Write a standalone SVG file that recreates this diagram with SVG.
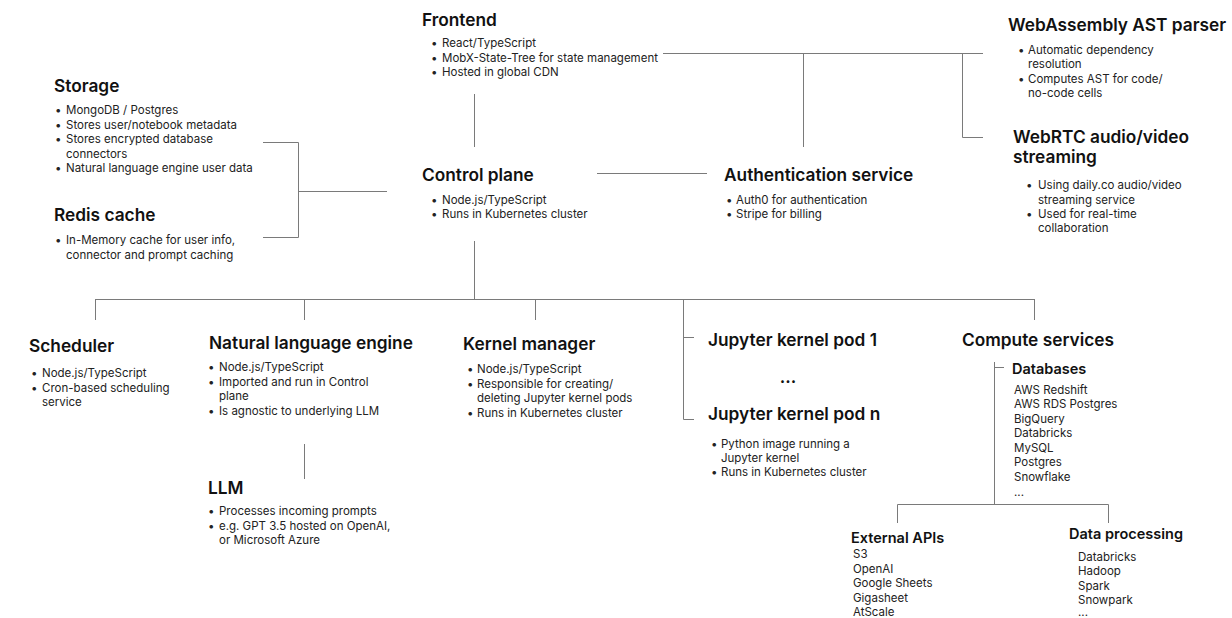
<svg xmlns="http://www.w3.org/2000/svg" width="1232" height="618" viewBox="0 0 1232 618">
<style>
text{font-family:Inter,"Noto Sans","Liberation Sans",sans-serif;fill:#111}
.t{font-size:17.3px;font-weight:600}
.s{font-size:14.5px;font-weight:600}
.b{font-size:11.5px;fill:#222}
.d{font-size:11.5px;fill:#222}
.c{fill:none;stroke:#7a7a7a;stroke-width:1}
</style>
<rect width="1232" height="618" fill="#fff"/>
<g id="connectors" class="c">
<path d="M663,53.5H983M962.5,53.5V137.5H983M803.5,53.5V147"/>
<path d="M474.5,94V147"/>
<path d="M597,173.5H707"/>
<path d="M263,142.5H298.5V237.5H263M298.5,191.5H387"/>
<path d="M474.5,241V299.5"/>
<path d="M95,299.5H1034.5"/>
<path d="M95.5,299V320M304.5,299V320M535.5,299V320M1034.5,299V320"/>
<path d="M683.5,299V419.5H694M683.5,337.5H694"/>
<path d="M304.5,444V479"/>
<path d="M994.5,362V504.5M994.5,367.5H1004"/>
<path d="M897.5,523V504.5H1108.5V523"/>
</g>
<g id="storage">
<text class="t" x="54" y="92">Storage</text>
<text class="d" x="55" y="114">•</text><text class="b" x="66" y="114">MongoDB / Postgres</text>
<text class="d" x="55" y="129">•</text><text class="b" x="66" y="129">Stores user/notebook metadata</text>
<text class="d" x="55" y="143">•</text><text class="b" x="66" y="143">Stores encrypted database</text>
<text class="b" x="66" y="158">connectors</text>
<text class="d" x="55" y="172">•</text><text class="b" x="66" y="172">Natural language engine user data</text>
</g>
<g id="redis">
<text class="t" x="54" y="221">Redis cache</text>
<text class="d" x="55" y="244">•</text><text class="b" x="66" y="244">In-Memory cache for user info,</text>
<text class="b" x="66" y="259">connector and prompt caching</text>
</g>
<g id="frontend">
<text class="t" x="422" y="26">Frontend</text>
<text class="d" x="431" y="47">•</text><text class="b" x="442" y="47">React/TypeScript</text>
<text class="d" x="431" y="62">•</text><text class="b" x="442" y="62">MobX-State-Tree for state management</text>
<text class="d" x="431" y="76">•</text><text class="b" x="442" y="76">Hosted in global CDN</text>
</g>
<g id="control-plane">
<text class="t" x="422" y="181">Control plane</text>
<text class="d" x="431" y="204">•</text><text class="b" x="442" y="204">Node.js/TypeScript</text>
<text class="d" x="431" y="218">•</text><text class="b" x="442" y="218">Runs in Kubernetes cluster</text>
</g>
<g id="auth">
<text class="t" x="724" y="181">Authentication service</text>
<text class="d" x="726" y="204">•</text><text class="b" x="736" y="204">Auth0 for authentication</text>
<text class="d" x="726" y="218">•</text><text class="b" x="736" y="218">Stripe for billing</text>
</g>
<g id="wasm">
<text class="t" x="1008" y="31">WebAssembly AST parser</text>
<text class="d" x="1018" y="54">•</text><text class="b" x="1028" y="54">Automatic dependency</text>
<text class="b" x="1028" y="68">resolution</text>
<text class="d" x="1018" y="83">•</text><text class="b" x="1028" y="83">Computes AST for code/</text>
<text class="b" x="1028" y="97">no-code cells</text>
</g>
<g id="webrtc">
<text class="t" x="1013" y="143">WebRTC audio/video</text>
<text class="t" x="1013" y="163">streaming</text>
<text class="d" x="1026" y="189">•</text><text class="b" x="1038" y="189">Using daily.co audio/video</text>
<text class="b" x="1038" y="204">streaming service</text>
<text class="d" x="1026" y="218">•</text><text class="b" x="1038" y="218">Used for real-time</text>
<text class="b" x="1038" y="232">collaboration</text>
</g>
<g id="scheduler">
<text class="t" x="29" y="352">Scheduler</text>
<text class="d" x="31" y="377">•</text><text class="b" x="42" y="377">Node.js/TypeScript</text>
<text class="d" x="31" y="392">•</text><text class="b" x="42" y="392">Cron-based scheduling</text>
<text class="b" x="42" y="406">service</text>
</g>
<g id="nle">
<text class="t" x="209" y="349">Natural language engine</text>
<text class="d" x="208" y="371">•</text><text class="b" x="219" y="371">Node.js/TypeScript</text>
<text class="d" x="208" y="386">•</text><text class="b" x="219" y="386">Imported and run in Control</text>
<text class="b" x="219" y="400">plane</text>
<text class="d" x="208" y="415">•</text><text class="b" x="219" y="415">Is agnostic to underlying LLM</text>
</g>
<g id="llm">
<text class="t" x="208" y="494">LLM</text>
<text class="d" x="208" y="515">•</text><text class="b" x="219" y="515">Processes incoming prompts</text>
<text class="d" x="208" y="530">•</text><text class="b" x="219" y="530">e.g. GPT 3.5 hosted on OpenAI,</text>
<text class="b" x="219" y="544">or Microsoft Azure</text>
</g>
<g id="kernel-manager">
<text class="t" x="463" y="350">Kernel manager</text>
<text class="d" x="467" y="373">•</text><text class="b" x="477" y="373">Node.js/TypeScript</text>
<text class="d" x="467" y="388">•</text><text class="b" x="477" y="388">Responsible for creating/</text>
<text class="b" x="477" y="402">deleting Jupyter kernel pods</text>
<text class="d" x="467" y="417">•</text><text class="b" x="477" y="417">Runs in Kubernetes cluster</text>
</g>
<g id="jupyter-pod-1">
<text class="t" x="708" y="346">Jupyter kernel pod 1</text>
<text class="t" x="788" y="383" text-anchor="middle">...</text>
</g>
<g id="jupyter-pod-n">
<text class="t" x="708" y="420">Jupyter kernel pod n</text>
<text class="d" x="711" y="448">•</text><text class="b" x="721" y="448">Python image running a</text>
<text class="b" x="721" y="462">Jupyter kernel</text>
<text class="d" x="711" y="476">•</text><text class="b" x="721" y="476">Runs in Kubernetes cluster</text>
</g>
<g id="compute">
<text class="t" x="962" y="346">Compute services</text>
</g>
<g id="databases">
<text class="s" x="1012" y="374">Databases</text>
<text class="b" x="1014" y="394">AWS Redshift</text>
<text class="b" x="1014" y="408">AWS RDS Postgres</text>
<text class="b" x="1014" y="423">BigQuery</text>
<text class="b" x="1014" y="437">Databricks</text>
<text class="b" x="1014" y="452">MySQL</text>
<text class="b" x="1014" y="466">Postgres</text>
<text class="b" x="1014" y="481">Snowflake</text>
<text class="b" x="1014" y="496">...</text>
</g>
<g id="external-apis">
<text class="s" x="851" y="543">External APIs</text>
<text class="b" x="853" y="558">S3</text>
<text class="b" x="853" y="573">OpenAI</text>
<text class="b" x="853" y="587">Google Sheets</text>
<text class="b" x="853" y="602">Gigasheet</text>
<text class="b" x="853" y="616">AtScale</text>
</g>
<g id="data-processing">
<text class="s" x="1069" y="539">Data processing</text>
<text class="b" x="1078" y="561">Databricks</text>
<text class="b" x="1078" y="575">Hadoop</text>
<text class="b" x="1078" y="590">Spark</text>
<text class="b" x="1078" y="604">Snowpark</text>
<text class="b" x="1078" y="616">...</text>
</g>
</svg>
